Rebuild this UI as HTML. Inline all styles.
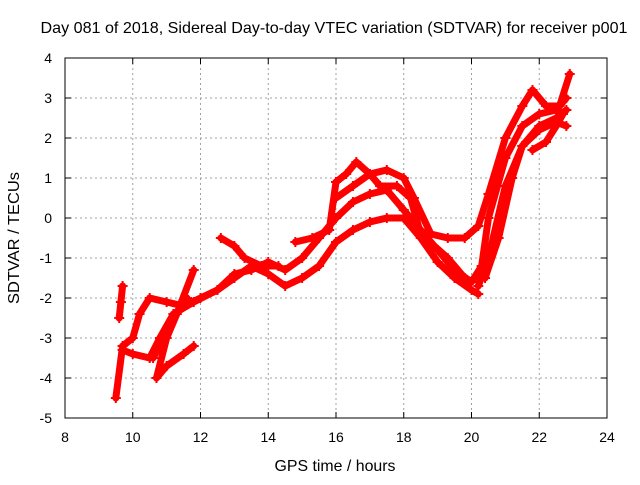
<!DOCTYPE html>
<html><head><meta charset="utf-8"><style>
body{margin:0;background:#fff;}
svg text{font-family:"Liberation Sans",sans-serif;font-size:14px;fill:#000;}
</style></head><body>
<svg width="640" height="480" viewBox="0 0 640 480">
<rect width="640" height="480" fill="#fff"/>
<g id="grid"></g>
<g id="series"></g>
<rect x="65" y="58" width="542" height="360" fill="none" stroke="#000" stroke-width="1"/>
<g id="ticks"></g>
<text x="334" y="33" text-anchor="middle" style="font-size:16px" textLength="587" lengthAdjust="spacingAndGlyphs">Day 081 of 2018, Sidereal Day-to-day VTEC variation (SDTVAR) for receiver p001</text>
<text x="335" y="471" text-anchor="middle" style="font-size:16px" textLength="121" lengthAdjust="spacingAndGlyphs">GPS time / hours</text>
<text transform="translate(19,238) rotate(-90)" text-anchor="middle" style="font-size:16px" textLength="132" lengthAdjust="spacingAndGlyphs">SDTVAR / TECUs</text>
</svg>
<script>
const xTicks=[8,10,12,14,16,18,20,22,24];
const yTicks=[-5,-4,-3,-2,-1,0,1,2,3,4];
const track1=[[9.5,-4.5],[9.7,-3.2],[10,-3.0],[10.2,-2.4],[10.5,-2.0],[11,-2.1],[11.5,-2.2],[12,-2.0],[12.5,-1.8],[13,-1.4],[13.5,-1.3],[14,-1.1],[14.5,-1.3],[15,-1.0],[15.5,-0.5],[16,0.0],[16.5,0.4],[17,0.6],[17.5,0.7],[18,0.2],[18.5,-0.3],[19,-0.8],[19.5,-1.3],[20,-1.6],[20.3,-1.2],[20.5,0.0],[21,1.5],[21.5,2.3],[22,2.6],[22.5,2.7],[22.8,3.0]];
const track2=[[9.7,-3.3],[10,-3.4],[10.5,-3.5],[10.8,-3.0],[11.2,-2.4],[11.8,-2.1],[12.5,-1.8],[13,-1.5],[13.5,-1.2],[14,-1.4],[14.5,-1.7],[15,-1.5],[15.5,-1.2],[16,-0.6],[16.5,-0.3],[17,-0.1],[17.5,0.0],[18,0.0],[18.5,-0.5],[19,-1.1],[19.5,-1.5],[20,-1.8],[20.2,-1.9]];
const track2b=[[20.2,-1.7],[20.5,-1.0],[21,0.8],[21.5,1.8],[22,2.3],[22.5,2.5],[22.8,2.7]];
const track3a=[[12.6,-0.5],[13,-0.7],[13.3,-1.0],[13.8,-1.2],[14.3,-1.2]];
const track3=[[14.8,-0.6],[15.3,-0.5],[15.8,-0.3],[16,0.9],[16.3,1.1],[16.6,1.4],[17,1.1],[17.5,1.2],[18,1.0],[18.3,0.5],[18.8,-0.4],[19.3,-0.5],[19.8,-0.5],[20.2,-0.2],[20.5,0.6],[21,2.0],[21.5,2.8],[21.8,3.2],[22.2,2.8],[22.6,2.8],[22.9,3.6]];
const track4=[[16,0.5],[16.5,0.8],[17,1.1],[17.3,0.8],[17.8,0.8],[18.2,0.5],[18.5,-0.4],[19.3,-1.0],[19.8,-1.5]];
const track4b=[[20.4,-1.5],[20.8,-0.5],[21.2,1.0],[21.5,1.8],[22,2.2],[22.5,2.4],[22.8,2.3]];
const track4c=[[21.8,1.7],[22.2,1.9],[22.5,2.3],[22.7,2.6]];
const track5=[[9.6,-2.5],[9.65,-2.1],[9.7,-1.7]];
const track6=[[11.8,-1.3],[11.3,-2.4],[11,-3.0],[10.7,-4.0],[11,-3.7],[11.5,-3.4],[11.8,-3.2]];
const track7=[[10.6,-3.5],[11.2,-2.5],[11.6,-2.0]];
const tracks=[track1,track2,track2b,track3a,track3,track4,track4b,track4c,track5,track6,track7];
const NS="http://www.w3.org/2000/svg";
const X=h=>65+(h-8)*(542/16), Y=v=>418-(v+5)*40;
const grid=document.getElementById('grid'),ticks=document.getElementById('ticks'),ser=document.getElementById('series');
function mk(tag,attrs,parent){const e=document.createElementNS(NS,tag);for(const k in attrs)e.setAttribute(k,attrs[k]);parent.appendChild(e);return e;}
xTicks.forEach(t=>{const x=X(t);
 if(t>8&&t<24){const g=mk('line',{x1:x,x2:x,y1:58,y2:418,stroke:'#a0a0a0','stroke-dasharray':'2,3'},grid);
 
 }
 mk('line',{x1:x,x2:x,y1:418,y2:412,stroke:'#000'},ticks);mk('line',{x1:x,x2:x,y1:58,y2:64,stroke:'#000'},ticks);
 const l=mk('text',{x:x,y:442,'text-anchor':'middle'},ticks);l.textContent=t;
 
 });
yTicks.forEach(t=>{const y=Y(t);
 if(t>-5&&t<4){const g=mk('line',{x1:65,x2:607,y1:y,y2:y,stroke:'#a0a0a0','stroke-dasharray':'2,3'},grid);
 
 }
 mk('line',{x1:65,x2:71,y1:y,y2:y,stroke:'#000'},ticks);mk('line',{x1:607,x2:601,y1:y,y2:y,stroke:'#000'},ticks);
 const l=mk('text',{x:52,y:y+5,'text-anchor':'end'},ticks);l.textContent=t;
 
 });
tracks.forEach(tr=>{
 const p=mk('polyline',{points:tr.map(d=>X(d[0])+','+Y(d[1])).join(' '),fill:'none',stroke:'#f00','stroke-width':7,'stroke-linejoin':'round','stroke-linecap':'round'},ser);
 
 
 tr.forEach(d=>{const x=X(d[0]),y=Y(d[1]);
  const m=mk('path',{d:`M${x-5},${y}h10M${x},${y-5}v10`,stroke:'#f00','stroke-width':2},ser);
  
  });
});
</script>
</body></html>
